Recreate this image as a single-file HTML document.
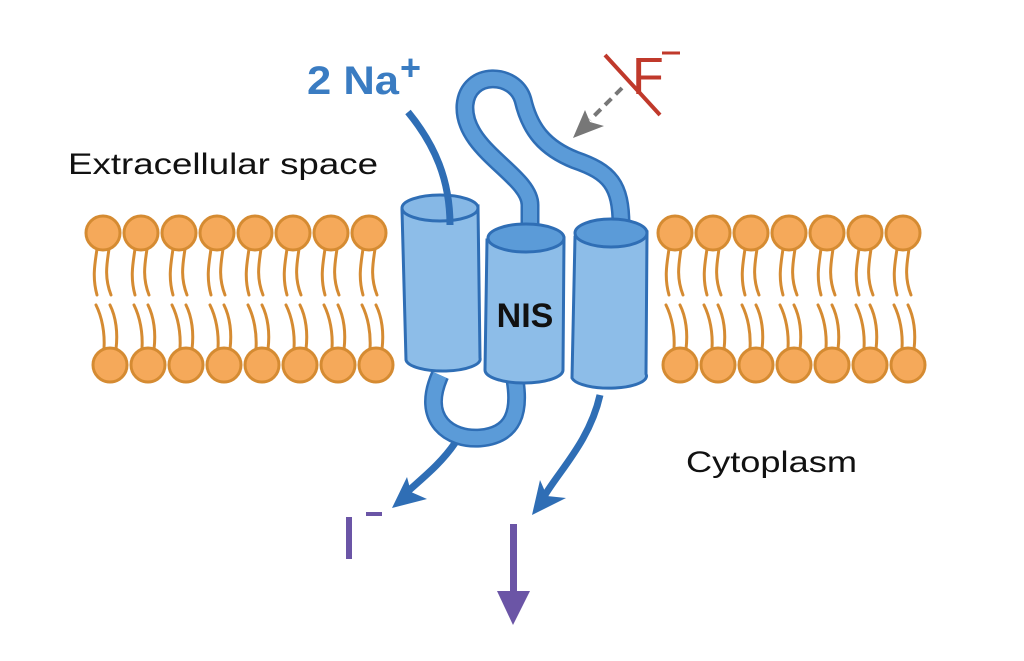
<!DOCTYPE html>
<html><head><meta charset="utf-8"><style>
html,body{margin:0;padding:0;background:#fff;}
svg{display:block}
text{font-family:"Liberation Sans",sans-serif}
</style></head><body>
<svg width="1024" height="661" viewBox="0 0 1024 661" xmlns="http://www.w3.org/2000/svg">
<defs>
<g id="lt">
<path d="M-6,16 C-8,30 -11,44 -6,62 M6,16 C4,30 1,44 8,62" fill="none" stroke="#d58b32" stroke-width="3" stroke-linecap="round"/>
<circle cx="0" cy="0" r="17" fill="#f5a95a" stroke="#d58b32" stroke-width="3"/>
</g>
<g id="lb">
<path d="M-6,-16 C-5,-32 -8,-48 -14,-60 M6,-16 C8,-32 6,-48 0,-60" fill="none" stroke="#d58b32" stroke-width="3" stroke-linecap="round"/>
<circle cx="0" cy="0" r="17" fill="#f5a95a" stroke="#d58b32" stroke-width="3"/>
</g>
</defs>
<g>
<use href="#lt" x="103" y="233"/><use href="#lt" x="141" y="233"/><use href="#lt" x="179" y="233"/><use href="#lt" x="217" y="233"/><use href="#lt" x="255" y="233"/><use href="#lt" x="293" y="233"/><use href="#lt" x="331" y="233"/><use href="#lt" x="369" y="233"/>
<use href="#lb" x="110" y="365"/><use href="#lb" x="148" y="365"/><use href="#lb" x="186" y="365"/><use href="#lb" x="224" y="365"/><use href="#lb" x="262" y="365"/><use href="#lb" x="300" y="365"/><use href="#lb" x="338" y="365"/><use href="#lb" x="376" y="365"/>
<use href="#lt" x="675" y="233"/><use href="#lt" x="713" y="233"/><use href="#lt" x="751" y="233"/><use href="#lt" x="789" y="233"/><use href="#lt" x="827" y="233"/><use href="#lt" x="865" y="233"/><use href="#lt" x="903" y="233"/>
<use href="#lb" x="680" y="365"/><use href="#lb" x="718" y="365"/><use href="#lb" x="756" y="365"/><use href="#lb" x="794" y="365"/><use href="#lb" x="832" y="365"/><use href="#lb" x="870" y="365"/><use href="#lb" x="908" y="365"/>
</g>
<text x="68" y="174" font-size="30" fill="#111" textLength="310" lengthAdjust="spacingAndGlyphs">Extracellular space</text>
<text x="686" y="472" font-size="30" fill="#111" textLength="171" lengthAdjust="spacingAndGlyphs">Cytoplasm</text>
<!-- top loop -->
<path d="M530,225 L530,205 C530,175 462,150 465,105 C468,70 515,72 523,100 C530,130 545,148 575,160 C610,172 621,185 621,225" fill="none" stroke="#2f6eb5" stroke-width="19" stroke-linecap="round"/>
<path d="M530,225 L530,205 C530,175 462,150 465,105 C468,70 515,72 523,100 C530,130 545,148 575,160 C610,172 621,185 621,225" fill="none" stroke="#5b9bd8" stroke-width="14" stroke-linecap="round"/>
<!-- bottom loop -->
<path d="M440,375 C420,420 450,440 480,438 C515,435 520,410 515,380" fill="none" stroke="#2f6eb5" stroke-width="19"/>
<path d="M440,375 C420,420 450,440 480,438 C515,435 520,410 515,380" fill="none" stroke="#5b9bd8" stroke-width="14"/>
<!-- cylinders -->
<g stroke="#2f6eb5" stroke-width="3">
<path d="M402,210 L406,360 A37,12 0 0 0 480,358 L478,206 Z" fill="#8dbde8"/>
<ellipse cx="440" cy="208" rx="38" ry="13" fill="#86b8e6"/>
<path d="M487,240 L485,370 A39,13 0 0 0 563,370 L564,238 Z" fill="#8dbde8"/>
<ellipse cx="526" cy="238" rx="38" ry="14" fill="#5b9bd8"/>
<path d="M575,237 L572,378 A37,12 0 0 0 646,374 L647,232 Z" fill="#8dbde8"/>
<ellipse cx="611" cy="233" rx="36" ry="14" fill="#5b9bd8"/>
</g>
<text x="525" y="327" font-size="34" font-weight="bold" text-anchor="middle" fill="#111">NIS</text>
<!-- Na line -->
<path d="M408,112 C435,145 450,180 450,225" fill="none" stroke="#2f6eb5" stroke-width="7"/>
<text x="307" y="94" font-size="40" font-weight="bold" fill="#3a7cc2" textLength="92" lengthAdjust="spacingAndGlyphs">2 Na</text>
<text x="400" y="80" font-size="36" font-weight="bold" fill="#3a7cc2">+</text>
<!-- F- -->
<text x="632" y="94" font-size="52" fill="#c0392b">F</text>
<line x1="662" y1="53" x2="680" y2="53" stroke="#c0392b" stroke-width="3"/>
<line x1="605" y1="55" x2="660" y2="115" stroke="#c0392b" stroke-width="4"/>
<line x1="622" y1="88" x2="590" y2="120" stroke="#777" stroke-width="4" stroke-dasharray="9,6"/>
<polygon points="573,138 585,110 590,122 604,126" fill="#777"/>
<!-- blue arrows -->
<path d="M455,443 C440,465 420,480 405,494" fill="none" stroke="#2f6eb5" stroke-width="7"/>
<polygon points="392,508 407,477 411,492 427,499" fill="#2f6eb5"/>
<path d="M600,395 C590,440 560,470 545,495" fill="none" stroke="#2f6eb5" stroke-width="7"/>
<polygon points="532,515 540,480 547,496 566,498" fill="#2f6eb5"/>
<!-- I- -->
<rect x="346" y="517" width="6" height="42" fill="#6b55a6"/>
<rect x="366" y="512" width="16" height="4" fill="#6b55a6"/>
<rect x="510" y="524" width="7" height="75" fill="#6b55a6"/>
<polygon points="497,591 530,591 513,625" fill="#6b55a6"/>
</svg>
</body></html>
